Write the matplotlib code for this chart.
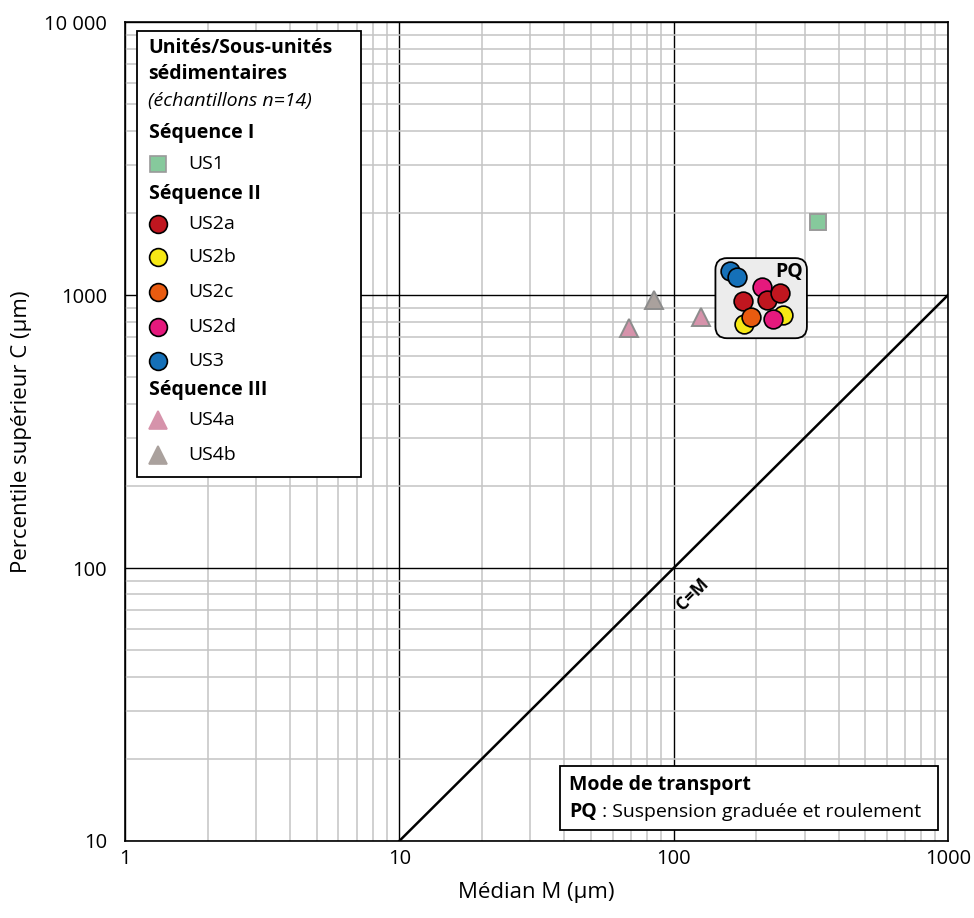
import matplotlib
matplotlib.use("Agg")
import matplotlib.pyplot as plt
from matplotlib.patches import FancyBboxPatch, Rectangle

plt.rcParams['font.family'] = ['Open Sans', 'DejaVu Sans']

# data: median M (um), upper percentile C (um)
us1_m = [336]
us1_c = [1850]
us2a_m = [179, 219, 244]
us2a_c = [951, 959, 1017]
us2b_m = [181, 250]
us2b_c = [783, 845]
us2c_m = [191]
us2c_c = [830]
us2d_m = [210, 230]
us2d_c = [1070, 817]
us3_m = [161, 170]
us3_c = [1225, 1164]
us4a_m = [69, 126]
us4a_c = [757, 830]
us4b_m = [85]
us4b_c = [959]

groups = [
    ("US1", us1_m, us1_c, 's', '#86c99c', '#9a9a9a'),
    ("US4a", us4a_m, us4a_c, '^', '#d693ab', '#8c8c8c'),
    ("US4b", us4b_m, us4b_c, '^', '#aaa19d', '#8c8c8c'),
    ("US3", us3_m, us3_c, 'o', '#1570b8', 'black'),
    ("US2d", us2d_m[:1], us2d_c[:1], 'o', '#e5197d', 'black'),
    ("US2a", us2a_m, us2a_c, 'o', '#c0161f', 'black'),
    ("US2b", us2b_m, us2b_c, 'o', '#f6e815', 'black'),
    ("US2c", us2c_m, us2c_c, 'o', '#e95b10', 'black'),
    ("US2d", us2d_m[1:], us2d_c[1:], 'o', '#e5197d', 'black'),
]
msize = {'o': 13.5, 's': 11.5, '^': 13}

fig = plt.figure(figsize=(9.74, 9.18), dpi=100)
ax = fig.add_axes([0.1283, 0.0839, 0.845, 0.892])
ax.set_xscale('log')
ax.set_yscale('log')
ax.set_xlim(1, 1000)
ax.set_ylim(10, 10000)

ax.grid(which='minor', color='#c4c4c4', lw=1.1, zorder=0)
ax.grid(which='major', color='black', lw=1.0, zorder=0.5)
ax.set_axisbelow(True)
ax.tick_params(which='both', length=0, labelsize=14.5, pad=6)
ax.tick_params(axis='y', pad=13)
ax.set_xticks([1, 10, 100, 1000])
ax.set_xticklabels(["1", "10", "100", "1000"])
ax.set_yticks([10, 100, 1000, 10000])
ax.set_yticklabels(["10", "100", "1000", "10 000"])
for s in ax.spines.values():
    s.set_linewidth(1.2)
ax.set_xlabel("Médian M (µm)", fontsize=16, labelpad=9)
ax.set_ylabel("Percentile supérieur C (µm)", fontsize=16, labelpad=9)

# C=M line
cm = [10, 1000]
ax.plot(cm, cm, color='black', lw=1.8, zorder=2)
ax.text(117, 80, "C=M", rotation=45, fontsize=12.5, fontweight='bold',
        ha='center', va='center', zorder=3)

# PQ box
pq_box = (142, 695, 306, 1366)
(x0, y0) = ax.transAxes.inverted().transform(ax.transData.transform((pq_box[0], pq_box[1])))
(x1, y1) = ax.transAxes.inverted().transform(ax.transData.transform((pq_box[2], pq_box[3])))
ax.add_patch(FancyBboxPatch((x0, y0), x1 - x0, y1 - y0,
                            boxstyle="round,pad=0,rounding_size=0.014",
                            transform=ax.transAxes, fc='#ececec', ec='black',
                            lw=1.3, zorder=3))
ax.text(264, 1210, "PQ", fontsize=14, fontweight='bold', ha='center',
        va='center', zorder=6)

for name, xm, yc, mk, fc, ec in groups:
    ax.plot(xm, yc, ls='None', marker=mk, ms=msize[mk], mfc=fc, mec=ec,
            mew=1.2 if mk == 'o' else 1.4, zorder=5)

# legend drawn by hand
def fy(py):
    return (841 - py) / 819

def fx(px):
    return (px - 125) / 823

ax.add_patch(Rectangle((fx(137), fy(477)), fx(361) - fx(137), fy(31) - fy(477),
                       transform=ax.transAxes, fc='white', ec='black', lw=1.3,
                       zorder=7))
head_rows = [
    (48, "Unités/Sous-unités", 'bold', 'normal'),
    (74, "sédimentaires", 'bold', 'normal'),
    (101, "(échantillons n=14)", 'normal', 'italic'),
    (133, "Séquence I", 'bold', 'normal'),
    (194, "Séquence II", 'bold', 'normal'),
    (390, "Séquence III", 'bold', 'normal'),
]
for py, txt, w, st in head_rows:
    ax.text(fx(149 if py > 110 else 148), fy(py), txt, transform=ax.transAxes,
            fontsize=14, fontweight=w, fontstyle=st, va='center', ha='left',
            zorder=8)
leg_rows = [
    (164, "US1", 's', '#86c99c', '#9a9a9a'),
    (224, "US2a", 'o', '#c0161f', 'black'),
    (257, "US2b", 'o', '#f6e815', 'black'),
    (292, "US2c", 'o', '#e95b10', 'black'),
    (327, "US2d", 'o', '#e5197d', 'black'),
    (361, "US3", 'o', '#1570b8', 'black'),
    (420, "US4a", '^', '#d693ab', '#d693ab'),
    (455, "US4b", '^', '#aaa19d', '#aaa19d'),
]
for py, lab, mk, fc, ec in leg_rows:
    ax.plot([fx(158)], [fy(py)], transform=ax.transAxes, ls='None', marker=mk,
            ms=msize[mk] * (0.95 if mk == 'o' else 1.0), mfc=fc, mec=ec,
            mew=1.2, zorder=8, clip_on=False)
    ax.text(fx(188), fy(py), lab, transform=ax.transAxes, fontsize=14,
            va='center', ha='left', zorder=8)

# transport mode box
ax.add_patch(Rectangle((fx(560), fy(830)), fx(938) - fx(560), fy(766) - fy(830),
                       transform=ax.transAxes, fc='white', ec='black', lw=1.3,
                       zorder=7))
ax.text(fx(569), fy(785), "Mode de transport", transform=ax.transAxes,
        fontsize=14, fontweight='bold', va='center', ha='left', zorder=8)
t = ax.text(fx(569), fy(812), "PQ", transform=ax.transAxes,
            fontsize=14, fontweight='bold', va='center', ha='left', zorder=8)
ax.annotate(" : Suspension graduée et roulement", xy=(1, 0.5),
            xycoords=t, va='center', ha='left', fontsize=14, zorder=8)

fig.savefig("out.png", dpi=100)
